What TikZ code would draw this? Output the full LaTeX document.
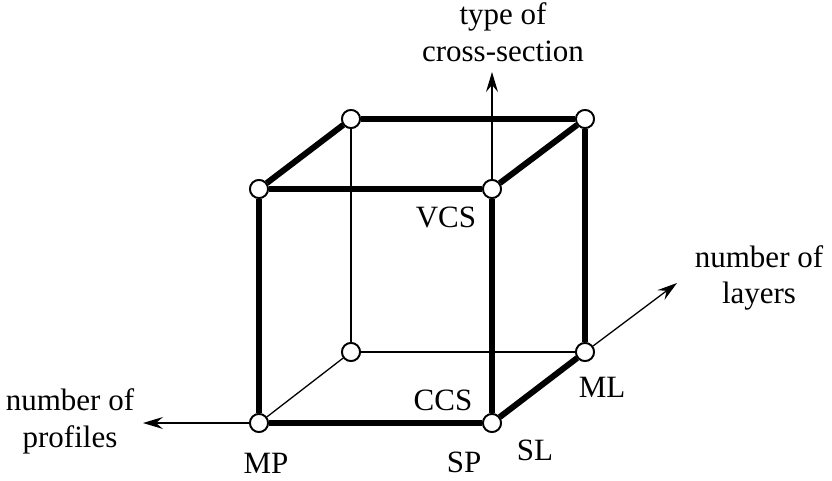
\documentclass[tikz,border=0pt]{standalone}
\usepackage{fontspec}
\setmainfont{Liberation Serif}
\usetikzlibrary{arrows.meta}
\begin{document}
\begin{tikzpicture}[x=1pt,y=-1pt,
  vtx/.style={circle,draw,fill=white,line width=1.8pt,minimum size=18pt,inner sep=0pt},
  thick edge/.style={line width=6pt},
  thin edge/.style={line width=1.3pt},
  axis/.style={line width=1.3pt,-{Stealth[length=20pt,width=12pt,inset=7pt]}},
  lbl/.style={anchor=base,inner sep=0pt,font=\fontsize{31}{37}\selectfont}]
\useasboundingbox (0,0) rectangle (832,481);
% vertices
\node[vtx] (ftl) at (259,189) {};
\node[vtx] (ftr) at (492,189) {};
\node[vtx] (fbl) at (259,423) {};
\node[vtx] (fbr) at (492,423) {};
\node[vtx] (btl) at (351,119) {};
\node[vtx] (btr) at (585,119) {};
\node[vtx] (bbl) at (351,352) {};
\node[vtx] (bbr) at (585,352) {};
% axis tips
\coordinate (up) at (492,72);
\coordinate (left) at (143,423);
\coordinate (right) at (677,283);
% thin edges
\draw[thin edge] (btl) -- (bbl);
\draw[thin edge] (bbl) -- (bbr);
\draw[thin edge] (bbl) -- (fbl);
% axes
\draw[axis] (ftr) -- (up);
\draw[axis] (fbl) -- (left);
\draw[axis] (bbr) -- (right);
% thick edges
\draw[thick edge] (ftl) -- (ftr);
\draw[thick edge] (ftl) -- (fbl);
\draw[thick edge] (fbl) -- (fbr);
\draw[thick edge] (ftr) -- (fbr);
\draw[thick edge] (ftl) -- (btl);
\draw[thick edge] (btl) -- (btr);
\draw[thick edge] (btr) -- (bbr);
\draw[thick edge] (ftr) -- (btr);
\draw[thick edge] (fbr) -- (bbr);
% redraw vertices on top
\foreach \n in {ftl,ftr,fbl,fbr,btl,btr,bbl,bbr}
  \node[vtx] at (\n) {};
% labels
\node[lbl] (vcs) at (446,227) {VCS};
\node[lbl] (ccs) at (443,410) {CCS};
\node[lbl] (sp) at (464,472) {SP};
\node[lbl] (sl) at (535,460) {SL};
\node[lbl] (ml) at (602,397) {ML};
\node[lbl] (mp) at (266,473) {MP};
\node[lbl] (t1) at (503,25) {type of};
\node[lbl] (t2) at (503,62) {cross-section};
\node[lbl] (p1) at (70,410) {number of};
\node[lbl] (p2) at (70,447) {profiles};
\node[lbl] (l1) at (759,267) {number of};
\node[lbl] (l2) at (759,303) {layers};
\end{tikzpicture}
\end{document}
